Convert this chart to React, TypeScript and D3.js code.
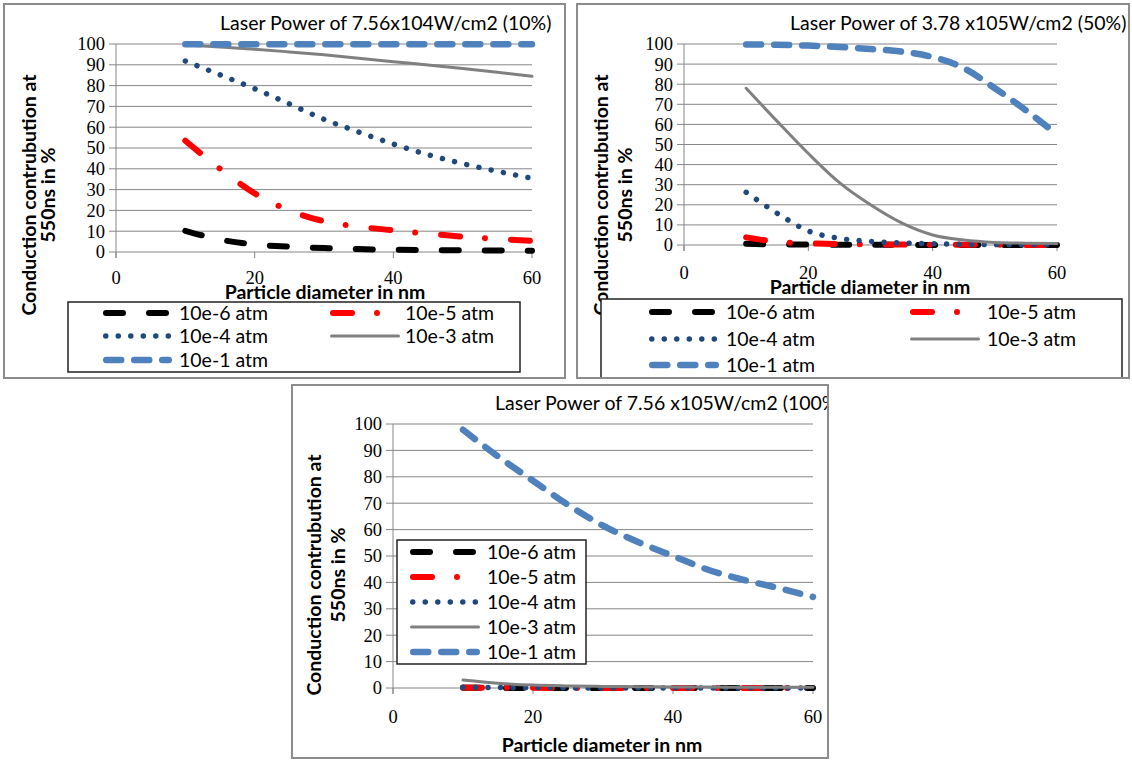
import * as d3 from "d3";

// particle diameters (nm) where every curve is sampled
const diameters = [10, 15, 20, 25, 30, 35, 40, 45, 50, 55, 60];
const xTicks = [0, 20, 40, 60];
const yTicks = [0, 10, 20, 30, 40, 50, 60, 70, 80, 90, 100];
const seriesNames = ["10e-6 atm", "10e-5 atm", "10e-4 atm", "10e-3 atm", "10e-1 atm"];

// 7.56x10^4 W/cm2 (10%)
const p10_e6 = [10.2, 6, 3.6, 2.6, 1.9, 1.4, 1.1, 0.9, 0.8, 0.7, 0.6];
const p10_e5 = [53.5, 40, 28.2, 20, 14.8, 12.2, 10.4, 8.8, 7.4, 6.3, 5.4];
const p10_e4 = [91.8, 85.2, 78.5, 71.2, 63.8, 57.7, 51.9, 46.8, 42.5, 38.8, 35.4];
const p10_e3 = [99.5, 98.6, 97.5, 96.2, 94.8, 93.2, 91.5, 89.9, 88.2, 86.4, 84.5];
const p10_e1 = [99.9, 99.9, 99.9, 99.9, 99.9, 99.9, 99.9, 99.9, 99.9, 99.9, 99.9];

// 3.78x10^5 W/cm2 (50%)
const p50_e6 = [0.6, 0.3, 0.2, 0.1, 0.08, 0.06, 0.05, 0.04, 0.03, 0.03, 0.02];
const p50_e5 = [3.8, 1.6, 0.8, 0.5, 0.3, 0.2, 0.15, 0.1, 0.08, 0.06, 0.05];
const p50_e4 = [26.2, 15.8, 7, 3.3, 1.8, 1, 0.6, 0.35, 0.2, 0.15, 0.1];
const p50_e3 = [78, 61.5, 45.5, 31, 20, 11, 5, 2.5, 1.3, 0.9, 0.7];
const p50_e1 = [99.8, 99.6, 99.2, 98.5, 97.5, 96.2, 93.5, 88, 78, 67, 55];

// 7.56x10^5 W/cm2 (100%)
const p100_e6 = [0.1, 0.05, 0.03, 0.02, 0.02, 0.01, 0.01, 0.01, 0.01, 0.01, 0.01];
const p100_e5 = [0.2, 0.1, 0.05, 0.03, 0.02, 0.02, 0.01, 0.01, 0.01, 0.01, 0.01];
const p100_e4 = [0.3, 0.15, 0.08, 0.05, 0.03, 0.02, 0.02, 0.01, 0.01, 0.01, 0.01];
const p100_e3 = [3, 1.8, 1.1, 0.8, 0.6, 0.5, 0.4, 0.35, 0.3, 0.3, 0.3];
const p100_e1 = [97.8, 87.7, 78.5, 69.4, 61.5, 55.3, 50, 44.8, 41, 37.9, 34.5];

const SANS = "Lato, 'Open Sans', sans-serif";
const SERIF = "'Liberation Serif', 'Times New Roman', serif";
const GRID = "#868686";

const styles: Record<string, any> = {
  "10e-6 atm": { stroke: "#000000", width: 6, dash: "17 26" },
  "10e-5 atm": { stroke: "#ff0000", width: 6, dash: "19 25 0.01 26" },
  "10e-4 atm": { stroke: "#1f497d", width: 5.5, dash: "0.01 12.5" },
  "10e-3 atm": { stroke: "#808080", width: 3, dash: null },
  "10e-1 atm": { stroke: "#4f81bd", width: 6.5, dash: "15 13" },
};

function SText({ x, y, anchor = "start", bold = false, size = 19.5, children }: any) {
  return (
    <text x={x} y={y} dy="0.35em" textAnchor={anchor}
      fontFamily={SANS} fontWeight={bold ? "bold" : "normal"} fontSize={size} fill="#000">
      {children}
    </text>
  );
}

function Panel({ id, frame, plot, title, titleX, titleY, series, yLab, xLab, xTickY, legend }: any) {
  const x = d3.scaleLinear().domain([0, 60]).range([plot.left, plot.right]);
  const y = d3.scaleLinear().domain([0, 100]).range([plot.bottom, plot.top]);
  const line = d3
    .line<number>()
    .x((_, i) => x(diameters[i]))
    .y((d) => y(d))
    .curve(d3.curveMonotoneX);

  const perRow = legend.cols.length;
  return (
    <g>
      <defs>
        <clipPath id={id}>
          <rect x={frame.x} y={frame.y} width={frame.w} height={frame.h} />
        </clipPath>
      </defs>
      <rect x={frame.x} y={frame.y} width={frame.w} height={frame.h} fill="#fff" />
      <g clipPath={`url(#${id})`}>
        <SText x={titleX} y={titleY}>{title}</SText>

        {yTicks.map((t) => (
          <g key={t}>
            <line x1={plot.left - 7} x2={plot.right} y1={y(t)} y2={y(t)} stroke={GRID} strokeWidth={1} />
            <text x={plot.left - 11} y={y(t)} dy="0.35em" textAnchor="end" fontFamily={SERIF} fontSize={18.5}>
              {t}
            </text>
          </g>
        ))}
        <line x1={plot.left} x2={plot.left} y1={plot.top} y2={plot.bottom + 6} stroke={GRID} strokeWidth={1} />
        {xTicks.map((t) => (
          <g key={t}>
            <line x1={x(t)} x2={x(t)} y1={plot.bottom} y2={plot.bottom + 6} stroke={GRID} strokeWidth={1} />
            <text x={x(t)} y={xTickY} dy="0.35em" textAnchor="middle" fontFamily={SERIF} fontSize={18.5}>
              {t}
            </text>
          </g>
        ))}

        {series.map((vals: number[], i: number) => {
          const s = styles[seriesNames[i]];
          return (
            <path key={i} d={line(vals) || ""} fill="none" stroke={s.stroke} strokeWidth={s.width}
              strokeDasharray={s.dash || undefined} strokeLinecap="round" strokeLinejoin="round" />
          );
        })}

        <text fontFamily={SANS} fontWeight="bold" fontSize={19.5} textAnchor="middle"
          transform={`translate(${yLab.x1},${yLab.cy}) rotate(-90)`} dominantBaseline="central">
          Conduction contrubution at
        </text>
        <text fontFamily={SANS} fontWeight="bold" fontSize={19.5} textAnchor="middle"
          transform={`translate(${yLab.x2},${yLab.cy}) rotate(-90)`} dominantBaseline="central">
          550ns in %
        </text>
        <SText x={xLab.x} y={xLab.y} anchor="middle" bold>Particle diameter in nm</SText>

        <rect x={legend.box.x} y={legend.box.y} width={legend.box.w} height={legend.box.h}
          fill="#fff" stroke="#222" strokeWidth={1.5} />
        {seriesNames.map((name, i) => {
          const s = styles[name];
          const col = legend.cols[i % perRow];
          const ry = legend.rows[Math.floor(i / perRow)];
          return (
            <g key={name}>
              <line x1={col.s1 + s.width / 2} x2={col.s2 - s.width / 2} y1={ry} y2={ry} stroke={s.stroke}
                strokeWidth={s.width} strokeDasharray={s.dash || undefined} strokeLinecap="round" />
              <SText x={col.t} y={ry}>{name}</SText>
            </g>
          );
        })}
      </g>
      <rect x={frame.x} y={frame.y} width={frame.w} height={frame.h} fill="none" stroke="#8c8c8c" strokeWidth={2} />
    </g>
  );
}

export default function App() {
  return (
    <svg width={1132} height={760} style={{ position: "absolute", left: 0, top: 0, background: "#fff" }}>
      <Panel
        id="c1"
        frame={{ x: 4, y: 4, w: 561, h: 374 }}
        plot={{ left: 116, right: 532, top: 44, bottom: 252 }}
        title="Laser Power of 7.56x104W/cm2 (10%)"
        titleX={220}
        titleY={23}
        series={[p10_e6, p10_e5, p10_e4, p10_e3, p10_e1]}
        yLab={{ x1: 28, x2: 47, cy: 195 }}
        xLab={{ x: 325, y: 292 }}
        xTickY={278}
        legend={{
          box: { x: 68, y: 302, w: 452, h: 70 },
          rows: [313, 336, 360],
          cols: [{ s1: 103, s2: 172, t: 179 }, { s1: 330, s2: 400, t: 405 }],
        }}
      />
      <Panel
        id="c2"
        frame={{ x: 577, y: 4, w: 552, h: 374 }}
        plot={{ left: 684, right: 1057, top: 44, bottom: 245 }}
        title="Laser Power of 3.78 x105W/cm2 (50%)"
        titleX={790}
        titleY={23}
        series={[p50_e6, p50_e5, p50_e4, p50_e3, p50_e1]}
        yLab={{ x1: 600, x2: 624, cy: 195 }}
        xLab={{ x: 870, y: 287 }}
        xTickY={273}
        legend={{
          box: { x: 601, y: 299, w: 521, h: 95 },
          rows: [312, 339, 365],
          cols: [{ s1: 649, s2: 719, t: 726 }, { s1: 910, s2: 980, t: 987 }],
        }}
      />
      <Panel
        id="c3"
        frame={{ x: 292, y: 385, w: 536, h: 373 }}
        plot={{ left: 393, right: 813, top: 424, bottom: 688 }}
        title="Laser Power of 7.56 x105W/cm2 (100%)"
        titleX={495}
        titleY={403}
        series={[p100_e6, p100_e5, p100_e4, p100_e3, p100_e1]}
        yLab={{ x1: 313, x2: 337, cy: 575 }}
        xLab={{ x: 602, y: 745 }}
        xTickY={717}
        legend={{
          box: { x: 397, y: 540, w: 189, h: 124 },
          rows: [552, 577, 602, 627, 652],
          cols: [{ s1: 410, s2: 480, t: 487 }],
        }}
      />
    </svg>
  );
}
